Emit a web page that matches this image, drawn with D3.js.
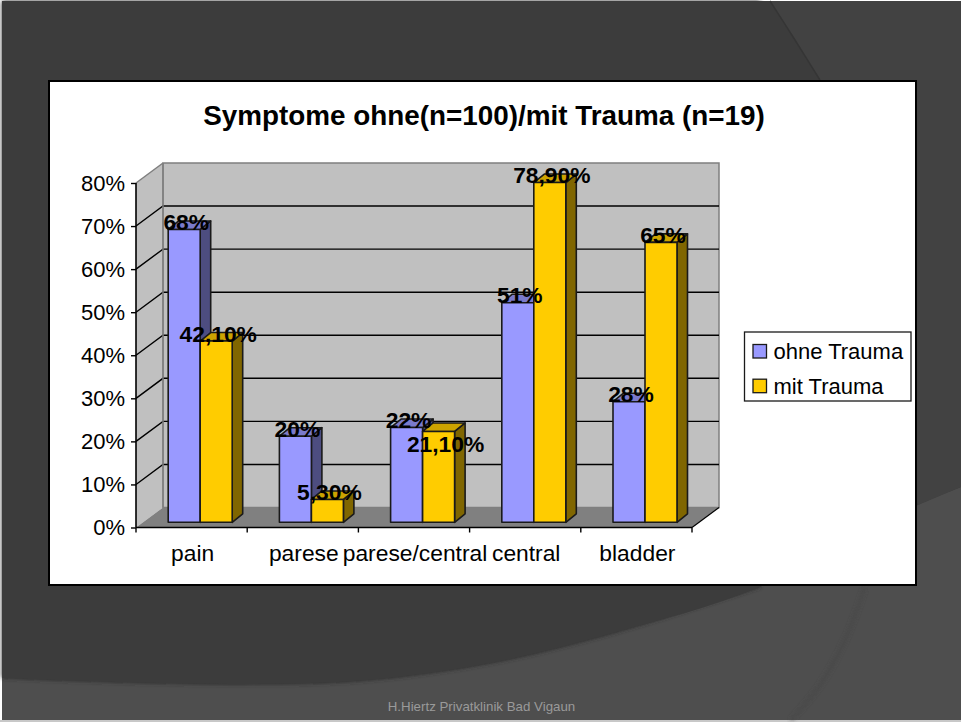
<!DOCTYPE html>
<html>
<head>
<meta charset="utf-8">
<script src="https://cdn.jsdelivr.net/npm/d3@7"></script>
<style>
	body { margin: 0; background: #fff; }
	svg { display: block; }
	text { font-family: "Liberation Sans", Arial, sans-serif; fill: #000; }
</style>
</head>
<body>
<svg id="slide" width="961" height="722"></svg>
<script>
//////////////////////////////////////
// Data

const categories = ['pain', 'parese', 'parese/central', 'central', 'bladder'];
const seriesNames = ['ohne Trauma', 'mit Trauma'];
const ohneTrauma = [0.68, 0.20, 0.22, 0.51, 0.28];
const mitTrauma = [0.421, 0.053, 0.211, 0.789, 0.65];
const ohneLabels = ['68%', '20%', '22%', '51%', '28%'];
const mitLabels = ['42,10%', '5,30%', '21,10%', '78,90%', '65%'];
const yTicks = [0, 0.1, 0.2, 0.3, 0.4, 0.5, 0.6, 0.7, 0.8];

//////////////////////////////////////
// Parameters

const left = 136, right = 692, y0 = 527.5, y80 = 183;
const wallDx = 27, wallDy = -20;    // depth of the 3d box
const barDx = 10.5, barDy = -8.5;   // depth of one bar
const barBaseDy = -5.2, barShift = 8.6;
const barWidth = 32;
const fills = [
	{front: '#9999ff', side: '#4d4d80', top: '#7a7acc'},
	{front: '#ffcc00', side: '#806600', top: '#cca300'}
];

const svg = d3.select('#slide');

//////////////////////////////////////
// Slide background

const defs = svg.append('defs');
defs.append('filter').attr('id', 'soft')
	.attr('x', '-5%').attr('y', '-5%').attr('width', '110%').attr('height', '110%')
	.append('feGaussianBlur').attr('stdDeviation', 2);

const bg = svg.append('g');
bg.append('rect').attr('x', 0).attr('y', 720).attr('width', 961).attr('height', 2).attr('fill', '#c8c8c8');
bg.append('rect').attr('x', 2).attr('y', 1).attr('width', 959).attr('height', 719).attr('fill', '#4e4e4e');

const curve = d3.line().curve(d3.curveCatmullRom);
const swoosh = [[2, 678], [120, 682], [245, 684], [368, 680], [490, 663], [613, 633], [760, 587], [918, 505], [961, 487]];
const topShape = [[770, 1], [795, 40], [820, 80]];

bg.append('path')
	.attr('d', curve(swoosh.slice(0, 7)) + 'L760,1L2,1Z')
	.attr('fill', '#2c2c2c').attr('filter', 'url(#soft)');
bg.append('path')
	.attr('d', curve(swoosh) + 'L961,1L2,1Z')
	.attr('fill', '#3c3c3c');
bg.append('path')
	.attr('d', curve(topShape) + 'L860,240L918,505L961,487L961,1Z')
	.attr('fill', '#424242');
bg.append('path')
	.attr('d', curve([[865, 587], [845, 640], [820, 685], [791, 720]]))
	.attr('fill', 'none').attr('stroke', '#444').attr('stroke-width', 2).attr('filter', 'url(#soft)');
bg.append('path')
	.attr('d', curve(topShape))
	.attr('fill', 'none').attr('stroke', '#353535').attr('stroke-width', 1.5);

svg.append('text')
	.attr('x', 481.5).attr('y', 711)
	.attr('text-anchor', 'middle')
	.style('font-size', '13.3px')
	.style('fill', '#9a9a9a')
	.text('H.Hiertz Privatklinik Bad Vigaun');

//////////////////////////////////////
// Chart box

svg.append('rect')
	.attr('x', 49).attr('y', 81)
	.attr('width', 867).attr('height', 504)
	.attr('fill', '#fff').attr('stroke', '#000').attr('stroke-width', 2);

svg.append('text')
	.attr('x', 484).attr('y', 125)
	.attr('text-anchor', 'middle')
	.style('font-size', '27.85px')
	.style('font-weight', 'bold')
	.text('Symptome ohne(n=100)/mit Trauma (n=19)');

//////////////////////////////////////
// Scales

const x = d3.scaleBand().domain(categories).range([left, right]);
const xInner = d3.scaleBand().domain(seriesNames).range([0, barWidth * 2]);
const y = d3.scaleLinear().domain([0, 0.8]).range([y0, y80]);

//////////////////////////////////////
// Walls and floor

const chart = svg.append('g');
const poly = pts => pts.map(p => p.join(',')).join(' ');

chart.append('polygon') // side wall
	.attr('points', poly([[left, y(0)], [left + wallDx, y(0) + wallDy], [left + wallDx, y(0.8) + wallDy], [left, y(0.8)]]))
	.attr('fill', '#c0c0c0');
chart.append('polygon') // back wall
	.attr('points', poly([[left + wallDx, y(0) + wallDy], [right + wallDx, y(0) + wallDy], [right + wallDx, y(0.8) + wallDy], [left + wallDx, y(0.8) + wallDy]]))
	.attr('fill', '#c0c0c0')
	.attr('stroke', '#7f7f7f').attr('stroke-width', 1.5);
chart.append('polygon') // floor
	.attr('points', poly([[left, y(0)], [right, y(0)], [right + wallDx, y(0) + wallDy], [left + wallDx, y(0) + wallDy]]))
	.attr('fill', '#808080');

// gridlines run along the side wall and then the back wall
chart.selectAll('.grid')
	.data(yTicks.slice(1, -1))
	.enter().append('polyline')
	.attr('class', 'grid')
	.attr('points', d => poly([[left, y(d)], [left + wallDx, y(d) + wallDy], [right + wallDx, y(d) + wallDy]]))
	.attr('fill', 'none')
	.attr('stroke', '#000').attr('stroke-width', 1.4);

chart.append('line')
	.attr('x1', left).attr('y1', y(0.8))
	.attr('x2', left + wallDx).attr('y2', y(0.8) + wallDy)
	.attr('stroke', '#7f7f7f').attr('stroke-width', 1.5);
chart.append('line')
	.attr('x1', left + wallDx).attr('y1', y(0) + wallDy)
	.attr('x2', left + wallDx).attr('y2', y(0.8) + wallDy)
	.attr('stroke', '#7f7f7f').attr('stroke-width', 1.5);

//////////////////////////////////////
// Bars

const barData = [];
categories.forEach(function(c, i) {
	barData.push({cat: c, s: 0, value: ohneTrauma[i], label: ohneLabels[i]});
	barData.push({cat: c, s: 1, value: mitTrauma[i], label: mitLabels[i]});
});
const barX = d => x(d.cat) + (x.bandwidth() - barWidth * 2) / 2 + barShift + xInner(seriesNames[d.s]);
const barY = d => y(d.value) + barBaseDy;

const bars = chart.selectAll('.bar').data(barData).enter().append('g').attr('class', 'bar')
	.attr('stroke', '#1a1a1a').attr('stroke-width', 1.6).attr('stroke-linejoin', 'round');

bars.append('polygon') // side
	.attr('points', function(d) {
		const r = barX(d) + barWidth;
		return poly([[r, barY(d)], [r + barDx, barY(d) + barDy], [r + barDx, y(0) + barBaseDy + barDy], [r, y(0) + barBaseDy]]);
	})
	.attr('fill', d => fills[d.s].side);
bars.append('polygon') // top
	.attr('points', function(d) {
		const l = barX(d), r = l + barWidth;
		return poly([[l, barY(d)], [l + barDx, barY(d) + barDy], [r + barDx, barY(d) + barDy], [r, barY(d)]]);
	})
	.attr('fill', d => fills[d.s].top);
bars.append('rect') // front
	.attr('x', barX)
	.attr('y', barY)
	.attr('width', barWidth)
	.attr('height', d => y(0) - y(d.value))
	.attr('fill', d => fills[d.s].front);

//////////////////////////////////////
// Axes

const yAxis = d3.axisLeft(y).tickValues(yTicks).tickFormat(d3.format('.0%')).tickSize(5).tickPadding(6);
const gy = svg.append('g').attr('transform', 'translate(' + left + ',0)').call(yAxis);
const xAxis = d3.axisBottom(x).tickSize(0).tickPadding(17.5);
const gx = svg.append('g').attr('transform', 'translate(0,' + y0 + ')').call(xAxis);

gy.selectAll('text').style('font-size', '22px').attr('font-family', null);
gx.selectAll('text').style('font-size', '22.8px').attr('font-family', null).attr('x', 1);
gy.selectAll('line').attr('stroke', '#000').attr('stroke-width', 1.4);
gy.select('.domain').attr('stroke', '#000').attr('stroke-width', 1.6).attr('d', 'M0,' + y(0.8) + 'V' + y(0));
gx.select('.domain').attr('stroke', '#000').attr('stroke-width', 1.6).attr('d', 'M' + left + ',0H' + right);

// ticks sit on the category boundaries
gx.selectAll('.boundary')
	.data(categories.concat(['end']))
	.enter().append('line')
	.attr('class', 'boundary')
	.attr('x1', (d, i) => left + i * x.step())
	.attr('x2', (d, i) => left + i * x.step())
	.attr('y1', 0).attr('y2', 5)
	.attr('stroke', '#000').attr('stroke-width', 1.4);

chart.append('line')
	.attr('x1', right).attr('y1', y(0))
	.attr('x2', right + wallDx).attr('y2', y(0) + wallDy)
	.attr('stroke', '#000').attr('stroke-width', 1.2);

//////////////////////////////////////
// Data labels

svg.selectAll('.lab')
	.data(barData)
	.enter().append('text')
	.attr('class', 'lab')
	.attr('x', d => barX(d) + barWidth / 2 + (d.label === '21,10%' ? 7 : 2))
	.attr('y', d => barY(d) + 0.5 + (d.label === '21,10%' ? 20 : 0))
	.attr('text-anchor', 'middle')
	.style('font-size', '22.8px')
	.style('font-weight', 'bold')
	.text(d => d.label);

//////////////////////////////////////
// Legend

const legend = svg.append('g');
legend.append('rect')
	.attr('x', 744.5).attr('y', 332)
	.attr('width', 166.5).attr('height', 69)
	.attr('fill', '#fff').attr('stroke', '#1a1a1a').attr('stroke-width', 1.3);

const rows = legend.selectAll('.row').data(seriesNames).enter().append('g').attr('class', 'row')
	.attr('transform', (d, i) => 'translate(753,' + (344.5 + i * 34.7) + ')');
rows.append('rect')
	.attr('width', 13.5).attr('height', 13.5)
	.attr('fill', (d, i) => fills[i].front)
	.attr('stroke', '#1a1a1a').attr('stroke-width', 1.3);
rows.append('text')
	.attr('x', 20.5).attr('y', 14.5)
	.style('font-size', '22px')
	.text(d => d);
</script>
</body>
</html>
